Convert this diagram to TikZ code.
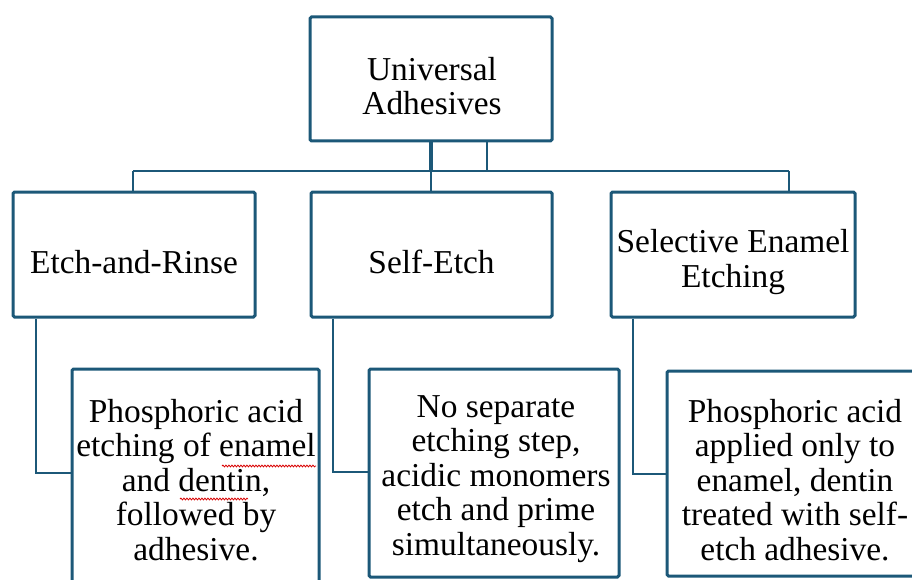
\documentclass[tikz,border=0pt]{standalone}
\usepackage{fontspec}
\setmainfont{Liberation Serif}
\usetikzlibrary{decorations.pathmorphing}
\definecolor{boxblue}{RGB}{28,88,120}
\tikzset{
  box/.style={draw=boxblue, line width=3pt, rounded corners=1.5pt, fill=white, inner sep=0pt},
  txt/.style={align=center, inner sep=0pt, font=\fontsize{33.4}{34.5}\selectfont},
  link/.style={draw=boxblue, line width=2pt},
  trunk/.style={draw=boxblue, line width=3.2pt},
  squig/.style={draw=red!85!black, line width=0.8pt, decorate, decoration={snake, amplitude=0.9pt, segment length=3pt}}
}
\begin{document}
\begin{tikzpicture}[x=1pt,y=-1pt]
\useasboundingbox (0,0) rectangle (912,580);
\clip (0,0) rectangle (912,580);
% boxes
\node[box, minimum width=242pt, minimum height=124pt] (root) at (431,79) {};
\node[box, minimum width=242pt, minimum height=125pt] (a) at (134,254.5) {};
\node[box, minimum width=241pt, minimum height=125pt] (b) at (431.5,254.5) {};
\node[box, minimum width=244pt, minimum height=125pt] (c) at (733,254.5) {};
\node[box, minimum width=247pt, minimum height=240pt] (d1) at (195.5,489) {};
\node[box, minimum width=250pt, minimum height=208pt] (d2) at (494,473) {};
\node[box, minimum width=260pt, minimum height=205pt] (d3) at (797,473.5) {};
% texts
\node[txt] (troot) at (432,86) {Universal\\Adhesives};
\node[txt] (ta) at (134,262) {Etch-and-Rinse};
\node[txt] (tb) at (431.5,262) {Self-Etch};
\node[txt] (tc) at (733,262) {Selective Enamel\\Etching};
\node[txt] (td1) at (196,480) {Phosphoric acid\\etching of enamel\\and dentin,\\followed by\\adhesive.};
\node[txt] (td2) at (496,479) {No separate\\etching step,\\acidic monomers\\etch and prime\\simultaneously.};
\node[txt] (td3) at (795,480) {Phosphoric acid\\applied only to\\enamel, dentin\\treated with self-\\etch adhesive.};
% bus coordinates
\coordinate (bus) at (431,171);
\coordinate (busL) at (133,171);
\coordinate (busR) at (789,171);
\coordinate (extra) at (487,171);
% connectors from root
\draw[trunk] (root.south -| bus) -- (bus);
\draw[link] (root.south -| extra) -- (extra);
\draw[link] (busL) -- (busR);
\draw[link] (busL) -- (busL |- a.north);
\draw[link] (bus) -- (bus |- b.north);
\draw[link] (busR) -- (busR |- c.north);
% connectors to details
\coordinate (ka) at (36,473);
\coordinate (kb) at (333,472);
\coordinate (kc) at (633,474);
\draw[link] (ka |- a.south) -- (ka) -- (ka -| d1.west);
\draw[link] (kb |- b.south) -- (kb) -- (kb -| d2.west);
\draw[link] (kc |- c.south) -- (kc) -- (kc -| d3.west);
% spell-check marks
\coordinate (s1a) at (222,466);
\coordinate (s1b) at (316,466);
\coordinate (s2a) at (180,499);
\coordinate (s2b) at (248,499);
\draw[squig] (s1a) -- (s1b);
\draw[squig] (s2a) -- (s2b);
\end{tikzpicture}
\end{document}
